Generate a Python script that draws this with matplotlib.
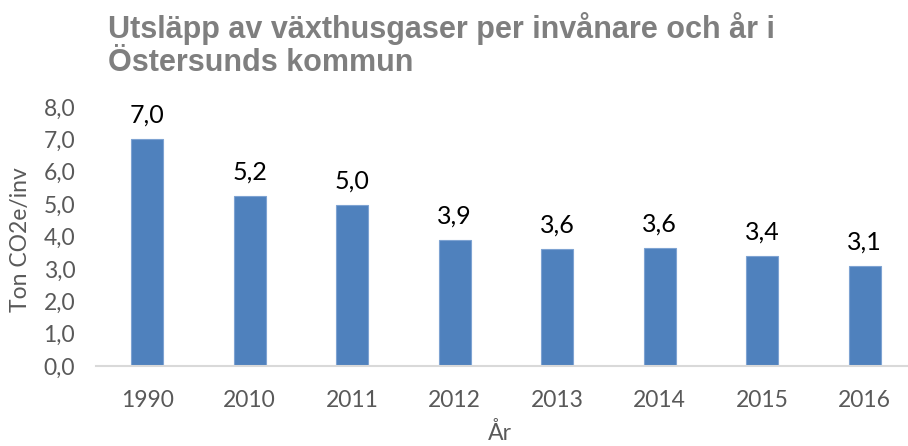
import matplotlib
matplotlib.use("Agg")
import matplotlib.pyplot as plt

years = ["1990", "2010", "2011", "2012", "2013", "2014", "2015", "2016"]
values = [7.0, 5.24, 4.97, 3.88, 3.61, 3.64, 3.40, 3.10]
yticks = [0, 1, 2, 3, 4, 5, 6, 7, 8]
title = "Utsläpp av växthusgaser per invånare och år i\nÖstersunds kommun"
ylabel = "Ton CO2e/inv"
xlabel = "År"

W, H = 908, 446
fig = plt.figure(figsize=(W / 100, H / 100), dpi=100)
left, right, bottom, top = 96, 916, 366, 107
ax = fig.add_axes([left / W, (H - bottom) / H, (right - left) / W, (bottom - top) / H])

x = list(range(len(years)))
ax.bar(x, values, width=0.31, color="#4F81BD", edgecolor="#7EA3D2", linewidth=0.8, zorder=2)
ax.set_xlim(-0.5, len(years) - 0.5)
ax.set_ylim(0, 8)

for xi, v in zip(x, values):
    ax.annotate(f"{v:.1f}".replace(".", ","), (xi, v), xytext=(0, 9), textcoords="offset points",
                ha="center", va="bottom", fontsize=18, family="Lato", color="#000000")

ax.set_xticks(x)
ax.set_xticklabels(years, family="Lato", fontsize=16.5, color="#595959")
ax.set_yticks(yticks)
ax.set_yticklabels([f"{t:.1f}".replace(".", ",") for t in yticks], family="Lato", fontsize=16.5, color="#595959")
ax.tick_params(length=0)
ax.tick_params(axis="x", pad=17)
ax.tick_params(axis="y", pad=15)

for s in ["top", "right", "left"]:
    ax.spines[s].set_visible(False)
ax.spines["bottom"].set_color("#D9D9D9")
ax.spines["bottom"].set_linewidth(1.5)

fig.text(21 / W, 1 - 240 / H, ylabel, rotation=90, ha="center", va="center",
         family="Lato", fontsize=16.5, color="#595959")
fig.text(500 / W, 2 / H, xlabel, ha="center", va="bottom",
         family="Lato", fontsize=16.5, color="#595959")
fig.text(108 / W, 1 - 12 / H, title, ha="left", va="top", family="Liberation Sans",
         fontweight="bold", fontsize=22, color="#7F7F7F", linespacing=1.15)

fig.savefig("out.png", dpi=100)
